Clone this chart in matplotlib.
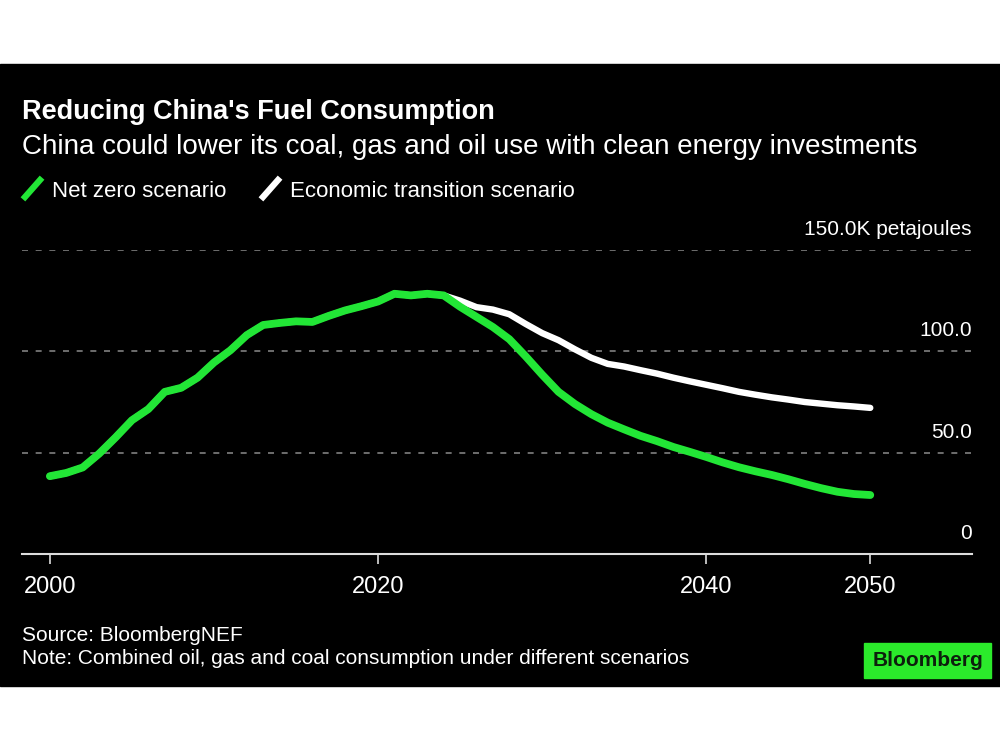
import numpy as np
import matplotlib
matplotlib.use("Agg")
import matplotlib.pyplot as plt
from matplotlib.patches import Rectangle
from matplotlib.lines import Line2D
import matplotlib.transforms as mtransforms

# --- Data (thousand petajoules) ---
years = list(range(2000, 2051))

history = [38.4, 40.0, 42.7, 49.5, 57.5, 66.0, 71.5, 80.0, 82.0, 87.0,
           94.5, 100.5, 108.0, 113.0, 114.0, 114.8, 114.5, 117.5, 120.2, 122.3,
           124.6, 128.4, 127.6, 128.4, 127.6]  # 2000-2024

net_zero_future = [122.0, 117.0, 112.0, 106.0, 97.5, 88.5, 80.0, 74.0, 69.0, 64.8,
                   61.5, 58.3, 55.7, 52.8, 50.4, 47.9, 45.2, 42.8, 40.8, 39.0,
                   36.9, 34.6, 32.5, 30.7, 29.6, 29.1]  # 2025-2050

econ_future = [125.0, 121.8, 120.6, 118.3, 113.5, 109.0, 105.5, 101.0, 96.8, 93.8,
               92.5, 90.7, 89.0, 87.0, 85.2, 83.5, 81.8, 80.0, 78.6, 77.3,
               76.2, 75.0, 74.2, 73.4, 72.8, 72.1]  # 2025-2050

net_zero = history + net_zero_future
economic = history + econ_future

y_ticks = [0, 50, 100, 150]
y_labels = ["0", "50.0", "100.0", "150.0K petajoules"]
x_ticks = [2000, 2020, 2040, 2050]

GREEN = "#22e636"
BG = "#000000"
W, H = 1000, 750

def fx(px):
    return px / W

def fy(py):
    return 1 - py / H

plt.rcParams['font.family'] = ['Liberation Sans', 'DejaVu Sans']

fig = plt.figure(figsize=(10, 7.5), dpi=100)
fig.patch.set_facecolor("white")

# black card
fig.patches.append(Rectangle((0, fy(686)), 1, fy(64) - fy(686),
                             transform=fig.transFigure, color=BG, zorder=-5))

ax = fig.add_axes([fx(22), fy(554), fx(950), fy(250) - fy(554)])
ax.set_zorder(3)
ax.set_facecolor("none")
ax.set_xlim(1998.3, 2056.2)
ax.set_ylim(0, 150)

# gridlines
for v in y_ticks[1:]:
    ax.axhline(v, color="#808080", lw=1.2, ls=(0, (3.6, 4.6)), zorder=1)

# lines
ax.plot(years, economic, color="white", lw=4.6, solid_capstyle="round",
        solid_joinstyle="round", zorder=3, clip_on=False)
ax.plot(years, net_zero, color=GREEN, lw=5.6, solid_capstyle="round",
        solid_joinstyle="round", zorder=4, clip_on=False)

# axes styling
for s in ["left", "right", "top"]:
    ax.spines[s].set_visible(False)
ax.spines["bottom"].set_color("#dddddd")
ax.spines["bottom"].set_linewidth(1.5)
ax.set_yticks([])
ax.set_xticks(x_ticks)
ax.tick_params(axis="x", colors="#dddddd", length=7, width=1.2, pad=9,
               labelsize=17, labelcolor="white")

# y labels above gridlines, right aligned
trans = mtransforms.blended_transform_factory(ax.transAxes, ax.transData)
for v, lab in zip(y_ticks, y_labels):
    ax.annotate(lab, xy=(1.0, v), xycoords=trans, xytext=(0, 8),
                textcoords="offset points", ha="right", va="bottom",
                color="white", fontsize=15)

# titles
fig.text(fx(22), fy(119), "Reducing China's Fuel Consumption", color="white",
         fontsize=19.5, fontweight="bold", va="baseline", ha="left")
fig.text(fx(22), fy(154), "China could lower its coal, gas and oil use with clean energy investments",
         color="white", fontsize=20, va="baseline", ha="left")

# legend
fig.add_artist(Line2D([fx(25), fx(40)], [fy(197), fy(180)], color=GREEN, lw=4.5,
                      transform=fig.transFigure))
fig.text(fx(52), fy(197), "Net zero scenario", color="white", fontsize=16,
         va="baseline", ha="left")
fig.add_artist(Line2D([fx(263), fx(278)], [fy(197), fy(180)], color="white", lw=4.5,
                      transform=fig.transFigure))
fig.text(fx(290), fy(197), "Economic transition scenario", color="white", fontsize=16,
         va="baseline", ha="left")

# footer
fig.text(fx(22), fy(641), "Source: BloombergNEF", color="white", fontsize=15,
         va="baseline", ha="left")
fig.text(fx(22), fy(664), "Note: Combined oil, gas and coal consumption under different scenarios",
         color="white", fontsize=15, va="baseline", ha="left")

# logo
fig.patches.append(Rectangle((fx(864), fy(678)), fx(127), fy(643) - fy(678),
                             transform=fig.transFigure, color="#2bea2b", zorder=2))
fig.text(fx(927.5), fy(660.5), "Bloomberg", color="#0d1f0d", fontsize=15,
         fontweight="bold", va="center", ha="center")

fig.savefig("out.png", dpi=100, facecolor=fig.get_facecolor())
